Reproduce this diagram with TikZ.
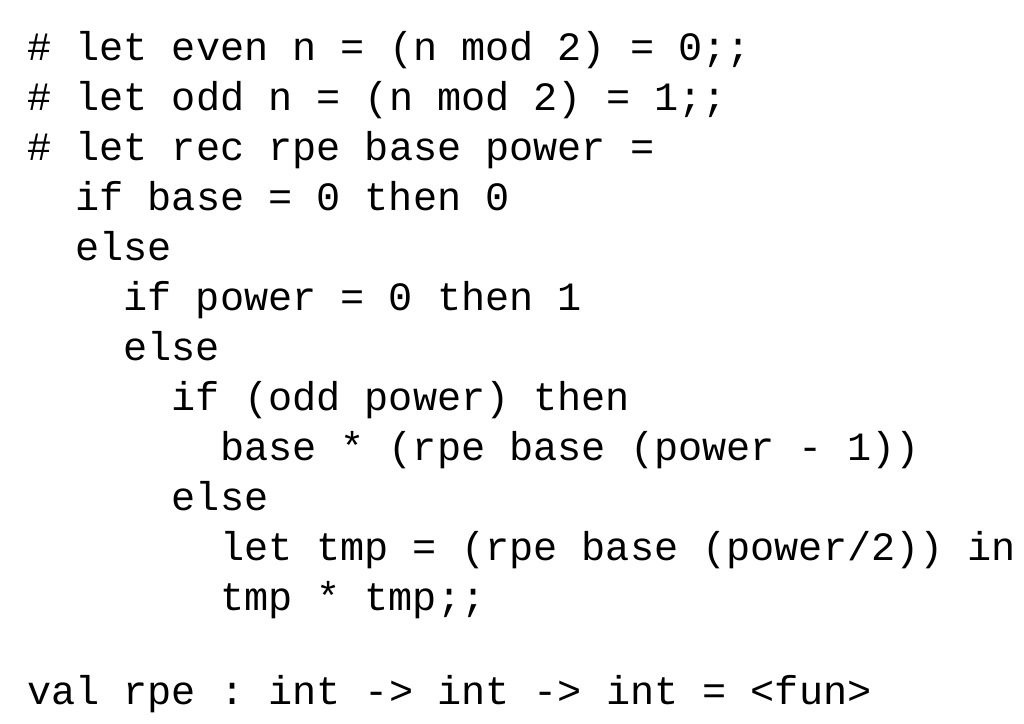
\documentclass[tikz,border=0pt]{standalone}
\usepackage{fontspec}
\setmonofont{Liberation Mono}
\begin{document}
\begin{tikzpicture}[x=1pt,y=-1pt,code/.style={anchor=base west,inner sep=0pt,font=\ttfamily\fontsize{40.2}{48}\selectfont}]
\useasboundingbox (0,0) rectangle (1024,723);
\def\cw{24.1}
\node[code] (l1) at (27,60) {\# let even n = (n mod 2) = 0;;};
\node[code] (l2) at (27,110) {\# let odd n = (n mod 2) = 1;;};
\node[code] (l3) at (27,160) {\# let rec rpe base power =};
\node[code] (l4) at (27+2*\cw,210) {if base = 0 then 0};
\node[code] (l5) at (27+2*\cw,260) {else};
\node[code] (l6) at (27+4*\cw,310) {if power = 0 then 1};
\node[code] (l7) at (27+4*\cw,360) {else};
\node[code] (l8) at (27+6*\cw,410) {if (odd power) then};
\node[code] (l9) at (27+8*\cw,460) {base * (rpe base (power - 1))};
\node[code] (l10) at (27+6*\cw,510) {else};
\node[code] (l11) at (27+8*\cw,560) {let tmp = (rpe base (power/2)) in};
\node[code] (l12) at (27+8*\cw,610) {tmp * tmp;;};
\node[code] (l13) at (27,704) {val rpe : int -> int -> int = <fun>};
\end{tikzpicture}
\end{document}
